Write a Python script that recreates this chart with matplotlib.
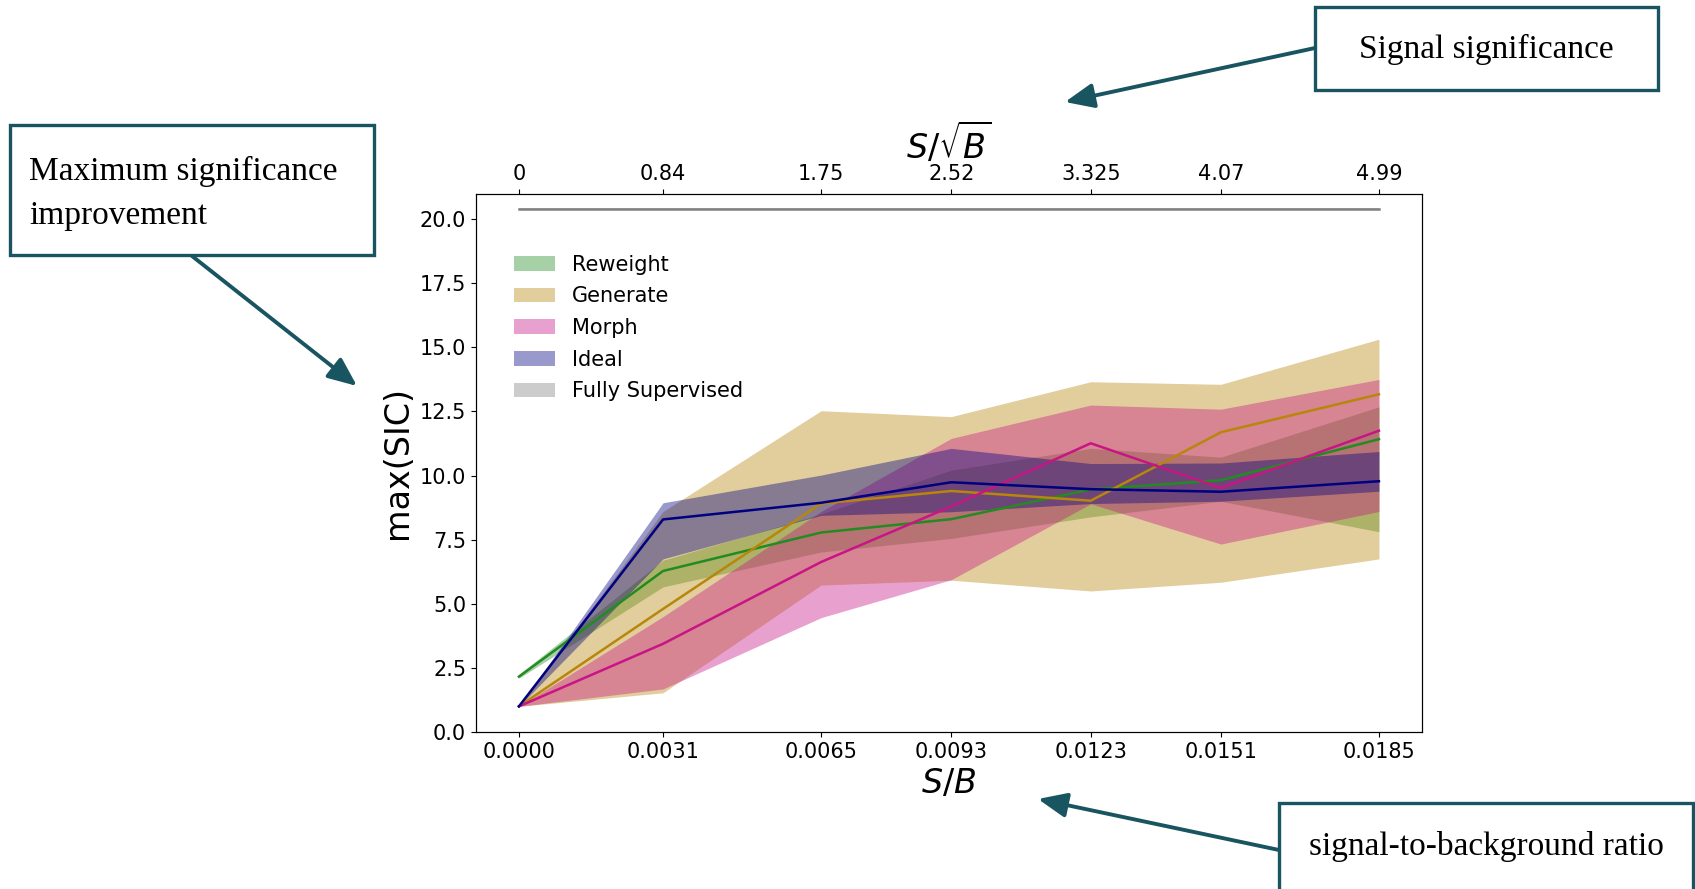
import matplotlib
matplotlib.use("Agg")
import matplotlib.pyplot as plt
from matplotlib.patches import Rectangle

# x positions (S/B) and the matching S/sqrt(B) labels for the top axis
sb = [0.0, 0.0031, 0.0065, 0.0093, 0.0123, 0.0151, 0.0185]
sb_labels = ["0.0000", "0.0031", "0.0065", "0.0093", "0.0123", "0.0151", "0.0185"]
sig_labels = ["0", "0.84", "1.75", "2.52", "3.325", "4.07", "4.99"]
y_ticks = [0.0, 2.5, 5.0, 7.5, 10.0, 12.5, 15.0, 17.5, 20.0]

# max(SIC): median line and band edges per method
reweight_mid = [2.16, 6.28, 7.78, 8.3, 9.46, 9.82, 11.42]
reweight_lo = [2.1, 5.66, 7.02, 7.55, 8.39, 9.0, 7.81]
reweight_hi = [2.25, 6.7, 8.5, 10.21, 11.06, 10.72, 12.68]

generate_mid = [1.0, 4.8, 8.91, 9.4, 9.02, 11.69, 13.17]
generate_lo = [1.0, 1.53, 5.73, 5.92, 5.5, 5.84, 6.75]
generate_hi = [1.0, 8.6, 12.53, 12.3, 13.66, 13.56, 15.32]

morph_mid = [1.0, 3.44, 6.63, 8.8, 11.26, 9.52, 11.75]
morph_lo = [1.0, 1.68, 4.46, 5.94, 8.9, 7.33, 8.6]
morph_hi = [1.0, 4.5, 8.6, 11.45, 12.75, 12.59, 13.75]

ideal_mid = [1.0, 8.29, 8.94, 9.74, 9.47, 9.37, 9.78]
ideal_lo = [1.0, 6.75, 8.45, 8.59, 8.91, 9.0, 9.39]
ideal_hi = [1.0, 8.94, 10.02, 11.06, 10.47, 10.49, 10.94]

supervised_mid = [20.4, 20.4, 20.4, 20.4, 20.4, 20.4, 20.4]
supervised_lo = [20.36, 20.36, 20.36, 20.36, 20.36, 20.36, 20.36]
supervised_hi = [20.44, 20.44, 20.44, 20.44, 20.44, 20.44, 20.44]

series = [
    ("Reweight", reweight_mid, reweight_lo, reweight_hi, "forestgreen"),
    ("Generate", generate_mid, generate_lo, generate_hi, "darkgoldenrod"),
    ("Morph", morph_mid, morph_lo, morph_hi, "mediumvioletred"),
    ("Ideal", ideal_mid, ideal_lo, ideal_hi, "navy"),
    ("Fully Supervised", supervised_mid, supervised_lo, supervised_hi, "gray"),
]

fig = plt.figure(figsize=(16.95, 8.89), dpi=100)
ax = fig.add_axes([0.2808, 0.1766, 0.5581, 0.6057])

for name, mid, lo, hi, c in series:
    ax.plot(sb, mid, color=c, lw=1.8)
    ax.fill_between(sb, lo, hi, color=c, alpha=0.4, lw=0, label=name)

ax.set_xlim(-0.000925, 0.019425)
ax.set_ylim(0, 21)
ax.set_xticks(sb)
ax.set_xticklabels(sb_labels, fontsize=15)
ax.set_yticks(y_ticks)
ax.set_yticklabels(["%.1f" % v for v in y_ticks], fontsize=15)
ax.set_xlabel("$S/B$", fontsize=24)
ax.set_ylabel("max(SIC)", fontsize=24)
ax.legend(loc="upper left", bbox_to_anchor=(0.031, 0.902), frameon=False,
          fontsize=15, labelspacing=0.56, borderaxespad=0)

# top axis shows the signal significance for the same points
ax2 = ax.twiny()
ax2.set_xlim(ax.get_xlim())
ax2.set_xticks(sb)
ax2.set_xticklabels(sig_labels, fontsize=15)
ax2.set_xlabel("$S/\\sqrt{B}$", fontsize=24)

# annotation boxes and arrows, drawn in pixel coords on an overlay
teal = "#195561"
ov = fig.add_axes([0, 0, 1, 1], zorder=5)
ov.set_xlim(0, 1695)
ov.set_ylim(889, 0)
ov.axis("off")

boxes = [
    (10, 125, 364, 130),
    (1315, 7, 343, 83),
    (1279, 803, 414, 100),
]
for x0, y0, w, h in boxes:
    ov.add_patch(Rectangle((x0, y0), w, h, facecolor="white", edgecolor=teal, lw=2.4))

serif = "Liberation Serif"
ov.text(29, 193.5, "Maximum significance\nimprovement", fontsize=24, family=serif,
        ha="left", va="center", linespacing=1.6)
ov.text(1486, 49, "Signal significance", fontsize=24, family=serif, ha="center", va="center")
ov.text(1486, 846, "signal-to-background ratio", fontsize=24, family=serif,
        ha="center", va="center")

arrow_style = dict(arrowstyle="-|>,head_length=0.7,head_width=0.3", color=teal,
                   lw=2.8, mutation_scale=25, shrinkA=0, shrinkB=0)
ov.annotate("", xy=(357, 386), xytext=(192, 256), arrowprops=arrow_style)
ov.annotate("", xy=(1065, 102), xytext=(1315, 48), arrowprops=arrow_style)
ov.annotate("", xy=(1038, 799), xytext=(1279, 850), arrowprops=arrow_style)

fig.savefig("out.png", dpi=100)
